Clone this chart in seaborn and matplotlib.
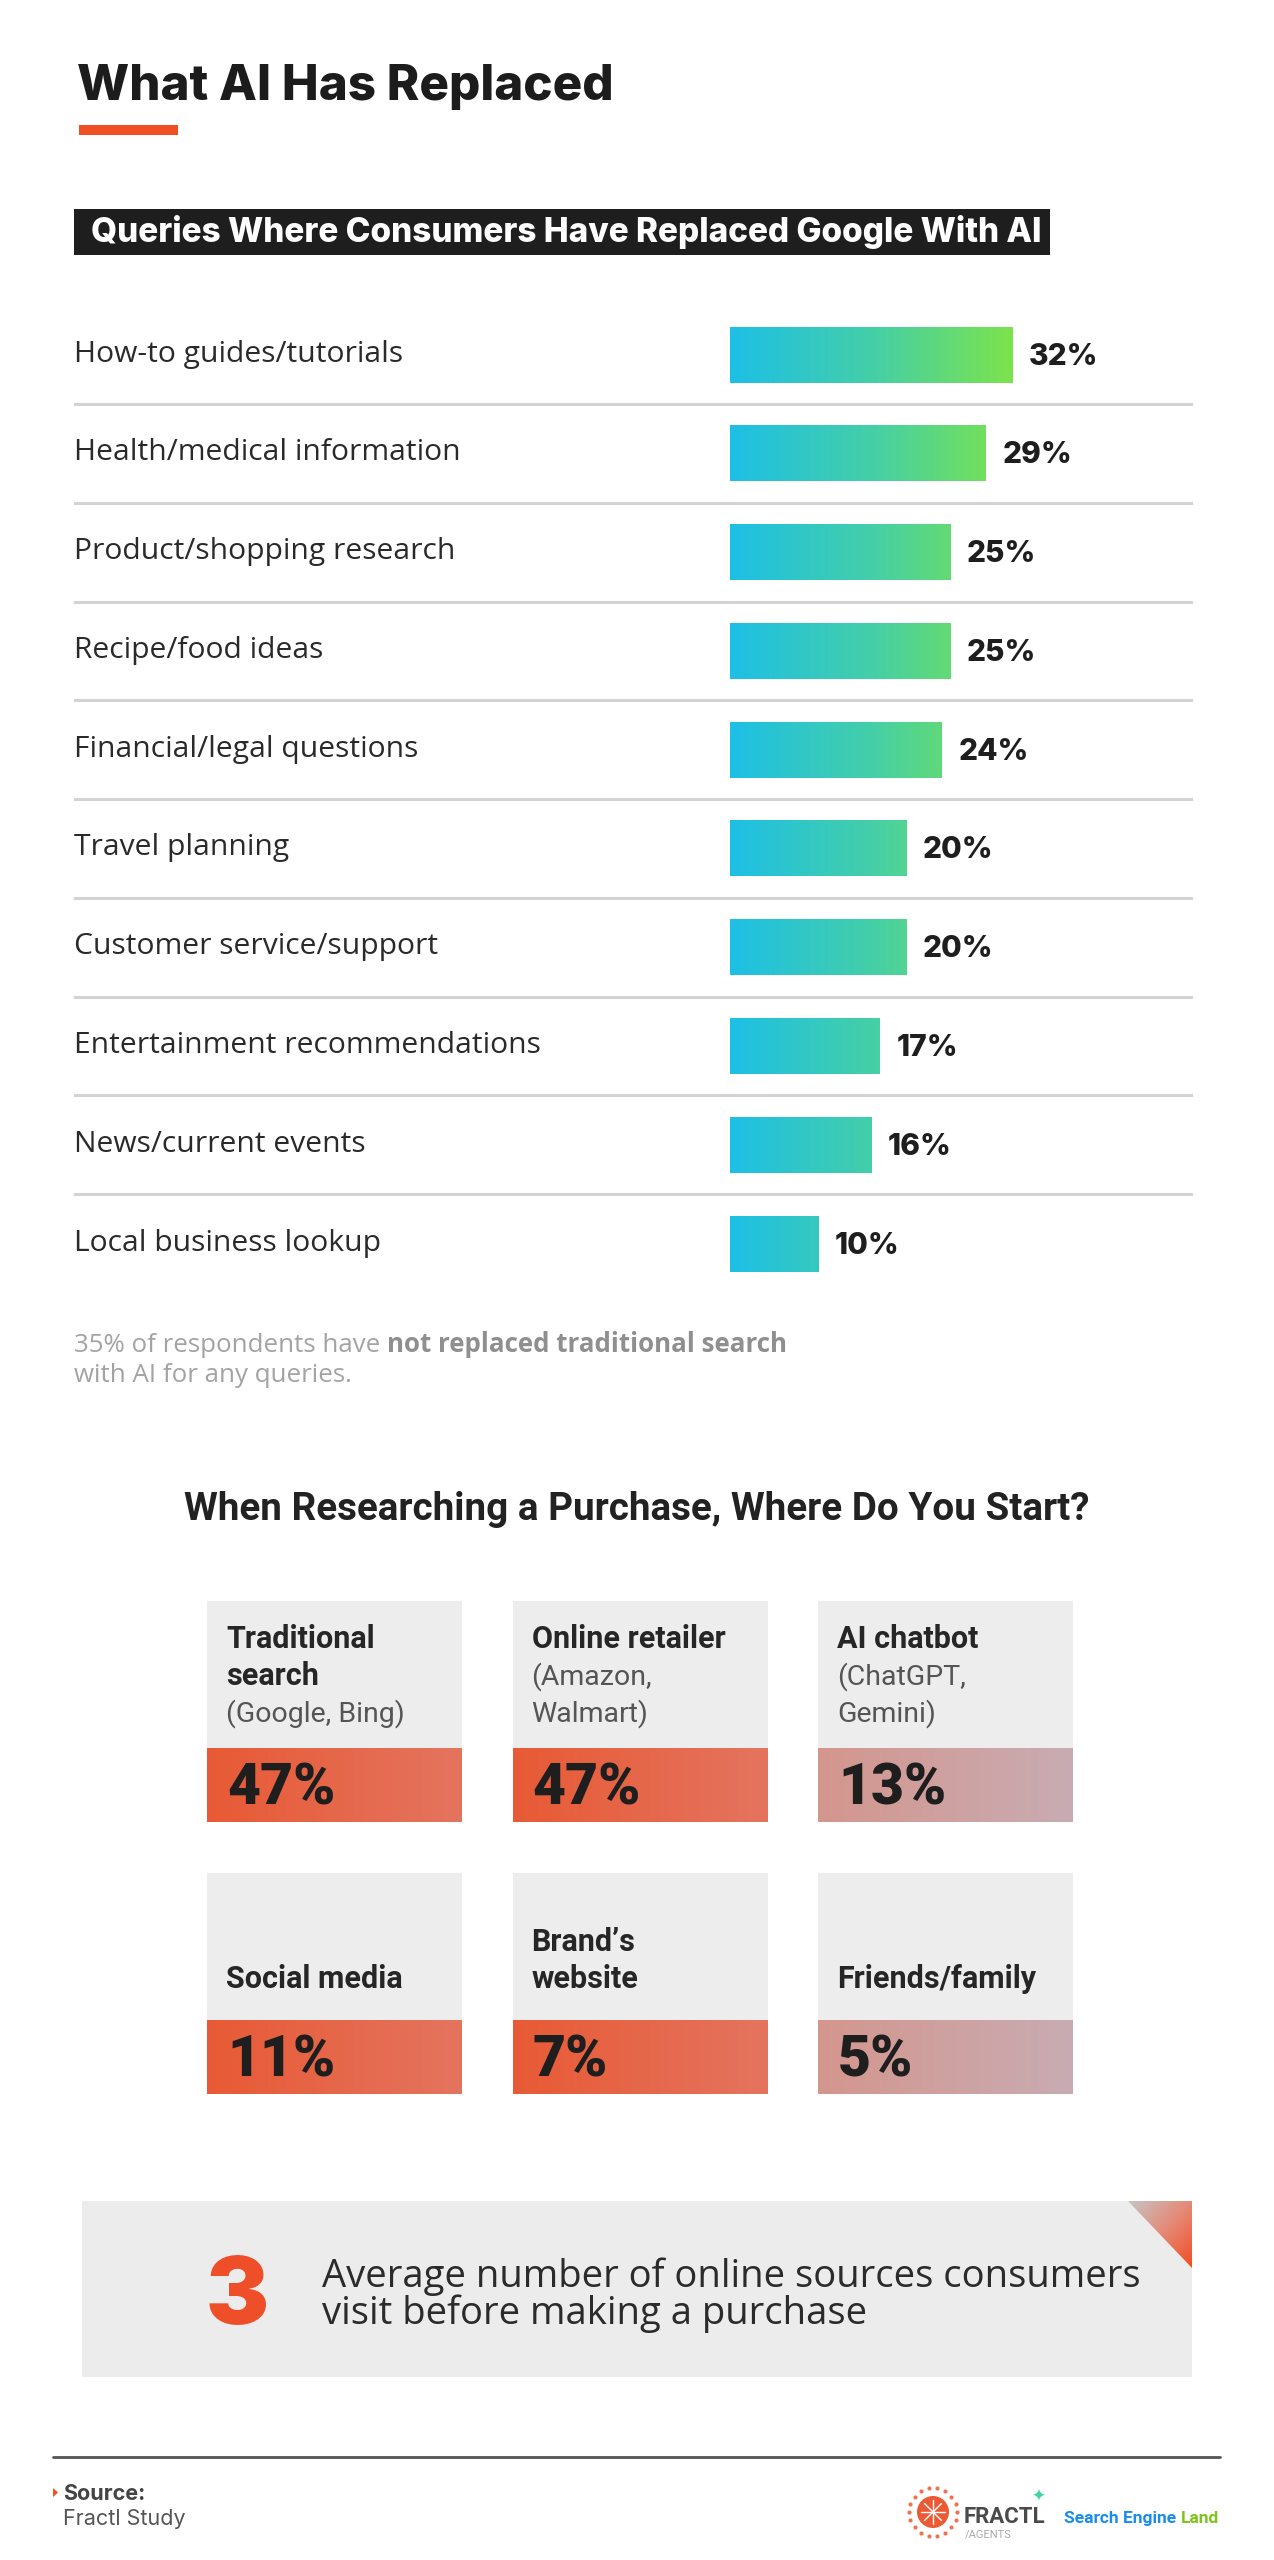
import numpy as np
import pandas as pd
import matplotlib
matplotlib.use("Agg")
import matplotlib.pyplot as plt
import seaborn as sns
from matplotlib.patches import Rectangle, Polygon
from matplotlib.colors import LinearSegmentedColormap

query_labels = ["How-to guides/tutorials", "Health/medical information",
                "Product/shopping research", "Recipe/food ideas",
                "Financial/legal questions", "Travel planning",
                "Customer service/support", "Entertainment recommendations",
                "News/current events", "Local business lookup"]
query_share = [32, 29, 25, 25, 24, 20, 20, 17, 16, 10]
not_replaced_share = 35

start_names = ["Traditional\nsearch", "Online retailer", "AI chatbot",
               "Social media", "Brand\u2019s\nwebsite", "Friends/family"]
start_examples = ["(Google, Bing)", "(Amazon,\nWalmart)", "(ChatGPT,\nGemini)", "", "", ""]
start_share = [47, 47, 13, 11, 7, 5]
start_muted = [False, False, True, False, False, True]

avg_sources = 3

sns.set_theme(style="white")
plt.rcParams["font.family"] = ["Open Sans", "DejaVu Sans"]
HEAD = ["Inter", "DejaVu Sans"]
COND = ["Roboto", "DejaVu Sans"]

W, H = 1274, 2560
fig = plt.figure(figsize=(W / 100, H / 100), dpi=100)
fig.patch.set_facecolor("white")

bg = fig.add_axes([0, 0, 1, 1], zorder=0)
bg.set_xlim(0, W)
bg.set_ylim(H, 0)
bg.axis("off")


def px_axes(x0, y0, x1, y1, z=1):
    return fig.add_axes([x0 / W, 1 - y1 / H, (x1 - x0) / W, (y1 - y0) / H], zorder=z)


def right_edge(t):
    r = fig.canvas.get_renderer()
    bb = t.get_window_extent(r)
    return bg.transData.inverted().transform((bb.x1, bb.y0))[0]


# ---- header ----
bg.text(77, 100, "What AI Has Replaced", fontsize=35.5, weight=800, family=HEAD,
        color="#1c1c1c", va="baseline")
bg.add_patch(Rectangle((79, 125), 99, 10, color="#f04e23", lw=0))
bg.add_patch(Rectangle((74, 209), 976, 46, color="#1e1e1e", lw=0))
bg.text(91, 242, "Queries Where Consumers Have Replaced Google With AI", fontsize=24,
        weight=800, family=HEAD, color="white", va="baseline")

# ---- bar chart ----
PX = 8.82          # pixels per percentage point
bar_x0 = 729.6
ax = px_axes(74, 305.3, 1193, 1292.9)
df = pd.DataFrame({"query": query_labels, "share": query_share})
sns.barplot(data=df, x="share", y="query", orient="h", width=0.567,
            color="#1dbfe6", saturation=1, ax=ax)

bar_cmap = LinearSegmentedColormap.from_list("bar", ["#1dbfe6", "#44cfa8", "#7ce34c"])
grad = np.linspace(0, 1, 256).reshape(1, -1)
top_val = max(query_share)
for p in ax.patches:
    y0, hh = p.get_y(), p.get_height()
    im = ax.imshow(grad, cmap=bar_cmap, aspect="auto", zorder=2,
                   extent=[0, top_val, y0 + hh, y0])
    im.set_clip_path(p)

xmin = -(bar_x0 - 74) / PX
xmax = (1193 - bar_x0) / PX
row_px = (1292.9 - 305.3) / len(df)
for i, (lab, v) in enumerate(zip(query_labels, query_share)):
    ax.text(xmin, i + 7 / row_px, lab, fontsize=21.6, color="#2a2a2a", va="baseline")
    ax.text(v + 17 / PX, i + 10 / row_px, f"{v}%", fontsize=21.5, weight=800,
            family=HEAD, color="#1e1e1e", va="baseline")
for i in range(len(df) - 1):
    ax.axhline(i + 0.5, color="#d3d3d3", lw=2.2, zorder=0)
ax.set_xlim(xmin, xmax)
ax.set_ylim(len(df) - 0.5, -0.5)
ax.axis("off")

# note under the bars
t1 = bg.text(74, 1352, f"{not_replaced_share}% of respondents have ", fontsize=18.6,
             color="#a3a3a3", va="baseline")
bg.text(right_edge(t1), 1352, "not replaced traditional search", fontsize=18.6,
        weight="bold", color="#8f8f8f", va="baseline")
bg.text(74, 1382, "with AI for any queries.", fontsize=18.6, color="#a3a3a3", va="baseline")

# ---- where do you start ----
bg.text(637, 1520, "When Researching a Purchase, Where Do You Start?", fontsize=27.8,
        weight="bold", family=COND, color="#222222", ha="center", va="baseline")

hot = LinearSegmentedColormap.from_list("hot", ["#e85a35", "#e4745f"])
muted = LinearSegmentedColormap.from_list("muted", ["#d4968d", "#c8acb3"])
card_w, gray_h, band_h = 255, 147.5, 74
for k, (name, ex, v, m) in enumerate(zip(start_names, start_examples, start_share, start_muted)):
    r, c = divmod(k, 3)
    x = 207 + c * 305.5
    y = 1601 + r * 272
    bg.add_patch(Rectangle((x, y), card_w, gray_h, color="#ededed", lw=0))
    bg.imshow(grad, cmap=muted if m else hot, aspect="auto", zorder=1,
              extent=[x, x + card_w, y + gray_h + band_h, y + gray_h])
    bg.text(x + 20, y + gray_h + 56, f"{v}%", fontsize=41, weight="black", family=COND,
            color="#1e1e1e", va="baseline", zorder=3)
    lines = [(s, True) for s in name.split("\n")]
    if ex:
        lines += [(s, False) for s in ex.split("\n")]
    last = y + (121 if ex else 115)
    for j, (s, bold) in enumerate(lines):
        yy = last - (len(lines) - 1 - j) * 37
        bg.text(x + 19, yy, s, fontsize=22 if bold else 20.5, family=COND,
                weight="bold" if bold else "normal",
                color="#262626" if bold else "#555555", va="baseline", zorder=3)

# ---- callout ----
bg.add_patch(Rectangle((82, 2201), 1110, 176, color="#ececec", lw=0))
tri = Polygon([(1128, 2201), (1192, 2201), (1192, 2268)], closed=True, fc="none", ec="none")
bg.add_patch(tri)
ii, jj = np.mgrid[0:64, 0:64]
corner = LinearSegmentedColormap.from_list("corner", ["#c4c4c4", "#e58a78", "#f04e23"])
im = bg.imshow((ii / 63 + jj / 63) / 2, cmap=corner, aspect="auto", zorder=2,
               extent=[1128, 1192, 2268, 2201])
im.set_clip_path(tri)
bg.text(237, 2324, str(avg_sources), fontsize=68, weight=900, family=HEAD,
        color="#ee4f28", ha="center", va="baseline")
bg.text(322, 2287, "Average number of online sources consumers", fontsize=27.5,
        color="#2b2b2b", va="baseline")
bg.text(322, 2324, "visit before making a purchase", fontsize=27.5,
        color="#2b2b2b", va="baseline")

# ---- footer ----
bg.plot([53, 1220], [2457, 2457], color="#555555", lw=2)
bg.add_patch(Polygon([(53, 2488), (58, 2492.5), (53, 2497)], closed=True, color="#f04e23", lw=0))
bg.text(63, 2500, "Source:", fontsize=15.5, weight="bold", family=HEAD, color="#444444",
        va="baseline")
bg.text(63, 2525, "Fractl Study", fontsize=15.5, family=HEAD, color="#555555", va="baseline")

# FRACTL mark
ang = np.linspace(0, 2 * np.pi, 18, endpoint=False)
bg.scatter(933 + 24 * np.cos(ang), 2512 + 24 * np.sin(ang), s=9, color="#ec5a35",
           alpha=0.85, lw=0, zorder=3)
bg.add_patch(plt.Circle((933, 2512), 16, color="#ec5a35", lw=0, zorder=3))
for a in np.linspace(0, np.pi, 4, endpoint=False):
    bg.plot([933 - 12 * np.cos(a), 933 + 12 * np.cos(a)],
            [2512 - 12 * np.sin(a), 2512 + 12 * np.sin(a)], color="white", lw=1, zorder=4)
bg.text(964, 2523, "FRACTL", fontsize=16, weight="bold", family=COND, color="#4a4a4a",
        va="baseline")
bg.text(965, 2538, "/AGENTS", fontsize=8, family=COND, color="#aaaaaa", va="baseline")
bg.text(1038, 2502, "\u2726", fontsize=12, family=["DejaVu Sans"], color="#3fd4a4",
        ha="center", va="baseline")
t2 = bg.text(1064, 2523, "Search Engine ", fontsize=12.5, weight="bold", family=COND,
             color="#1a8cf0", va="baseline")
bg.text(right_edge(t2), 2523, "Land", fontsize=12.5, weight="bold", family=COND,
        color="#7dc41d", va="baseline")

fig.savefig("out.png", dpi=100, facecolor="white")
